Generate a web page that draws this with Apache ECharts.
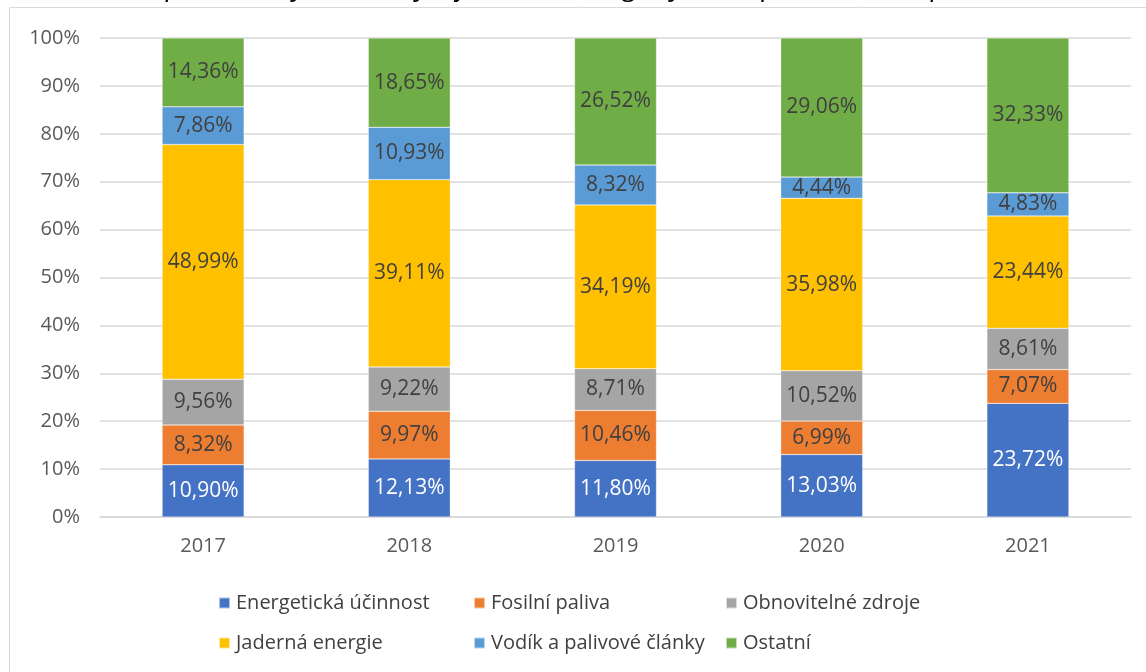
<!DOCTYPE html>
<html>
<head>
<meta charset="utf-8">
<script src="https://cdn.jsdelivr.net/npm/echarts@6/dist/echarts.min.js"></script>
<style>
  html, body { margin: 0; padding: 0; background: #fff; }
  #chart { width: 1146px; height: 672px; }
</style>
</head>
<body>
<div id="chart"></div>
<script>
const years = ['2017', '2018', '2019', '2020', '2021']
const seriesNames = ['Energetická účinnost', 'Fosilní paliva', 'Obnovitelné zdroje', 'Jaderná energie', 'Vodík a palivové články', 'Ostatní']
const energeticka = [10.90, 12.13, 11.80, 13.03, 23.72]
const fosilni = [8.32, 9.97, 10.46, 6.99, 7.07]
const obnovitelne = [9.56, 9.22, 8.71, 10.52, 8.61]
const jaderna = [48.99, 39.11, 34.19, 35.98, 23.44]
const vodik = [7.86, 10.93, 8.32, 4.44, 4.83]
const ostatni = [14.36, 18.65, 26.52, 29.06, 32.33]
const yTicks = [0, 10, 20, 30, 40, 50, 60, 70, 80, 90, 100]

const colors = ['#4472C4', '#ED7D31', '#A5A5A5', '#FFC000', '#5B9BD5', '#70AD47']
const values = [energeticka, fosilni, obnovitelne, jaderna, vodik, ostatni]
const font = 'Open Sans'

const chart = echarts.init(document.getElementById('chart'))

const series = seriesNames.map((name, i) => ({
  name: name,
  type: 'bar',
  stack: 'total',
  barWidth: 82,
  itemStyle: { color: colors[i], borderColor: 'rgba(255,255,255,0.6)', borderWidth: 0.5 },
  label: {
    show: true,
    position: 'inside',
    color: i === 0 ? '#ffffff' : '#404040',
    fontFamily: font,
    fontSize: 21,
    formatter: p => p.value.toFixed(2).replace('.', ',') + '%'
  },
  data: values[i]
}))

function legendCol(left, names) {
  return {
    orient: 'vertical',
    left: left,
    top: 588,
    itemWidth: 11,
    itemHeight: 11,
    itemGap: 20,
    icon: 'rect',
    data: names,
    textStyle: { color: '#404040', fontFamily: font, fontSize: 20, padding: [0, 0, 0, 1] }
  }
}

chart.setOption({
  animation: false,
  color: colors,
  grid: { left: 100, right: 15, top: 38, bottom: 155 },
  graphic: [
    {
      type: 'rect',
      shape: { x: 9.5, y: 7.5, width: 1200, height: 700 },
      style: { fill: 'none', stroke: '#d9d9d9', lineWidth: 1 }
    },
    {
      type: 'text',
      left: -14,
      top: -27,
      style: {
        text: 'Tabulka 2: Rozpočet na výzkum a vývoj dle technologických skupin v České republice',
        font: 'italic 28px "Open Sans"',
        fill: '#000'
      }
    }
  ],
  legend: [
    legendCol(213, [seriesNames[0], seriesNames[3]]),
    legendCol(468, [seriesNames[1], seriesNames[4]]),
    legendCol(720, [seriesNames[2], seriesNames[5]])
  ],
  xAxis: {
    type: 'category',
    data: years,
    axisLine: { lineStyle: { color: '#d9d9d9', width: 1.5 } },
    axisTick: { show: false },
    axisLabel: { color: '#595959', fontFamily: font, fontSize: 20, margin: 19 }
  },
  yAxis: {
    type: 'value',
    min: yTicks[0],
    max: yTicks[yTicks.length - 1],
    interval: 10,
    axisLine: { show: false },
    axisTick: { show: false },
    splitLine: { lineStyle: { color: '#d9d9d9', width: 1.5 } },
    axisLabel: { color: '#595959', fontFamily: font, fontSize: 20, margin: 20, formatter: '{value}%' }
  },
  series: series
})
</script>
</body>
</html>
